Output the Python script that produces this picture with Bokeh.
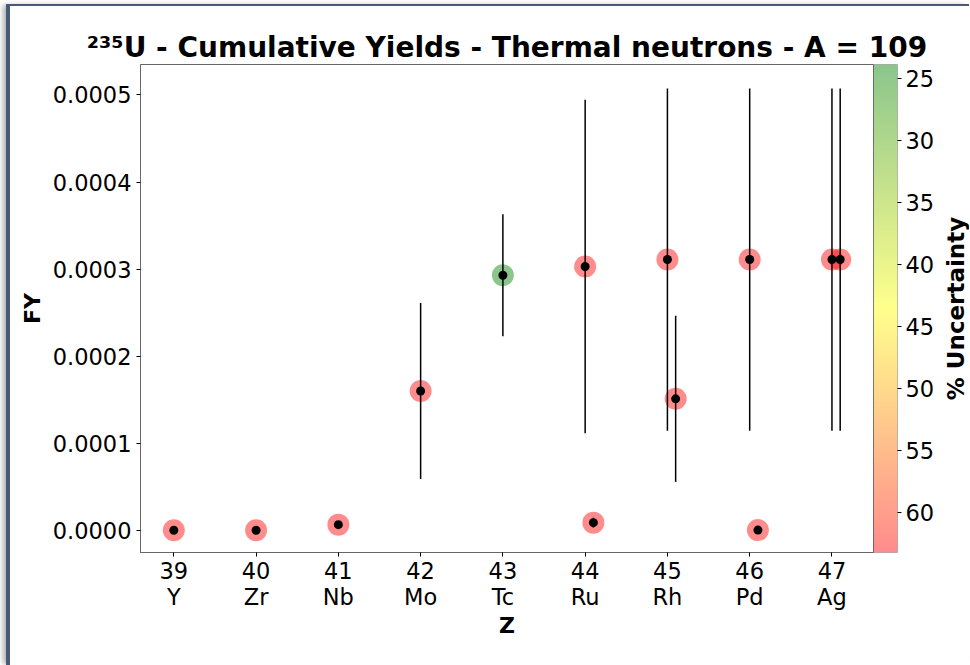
from bokeh.plotting import figure
from bokeh.layouts import row
from bokeh.models import (ColumnDataSource, Range1d, FixedTicker, ColorBar,
                          LinearColorMapper, PrintfTickFormatter)
from bokeh.transform import transform
from bokeh.embed import file_html
from bokeh.resources import INLINE

# ---------------- data ----------------
z_ticks = [39, 40, 41, 42, 43, 44, 45, 46, 47]
elements = ["Y", "Zr", "Nb", "Mo", "Tc", "Ru", "Rh", "Pd", "Ag"]

z_pos = [39, 40, 41, 42, 43, 44, 44.1, 45, 45.1, 46, 46.1, 47, 47.1]
fy = [1e-7, 1e-7, 6.5e-6, 1.60e-4, 2.93e-4, 3.03e-4, 8.8e-6,
      3.11e-4, 1.51e-4, 3.11e-4, 2e-7, 3.11e-4, 3.11e-4]
unc = [63.2, 63.2, 63.2, 63.2, 23.9, 63.2, 63.2,
       63.2, 63.2, 63.2, 63.2, 63.2, 63.2]

y_ticks = [0.0, 0.0001, 0.0002, 0.0003, 0.0004, 0.0005]
cbar_ticks = [25, 30, 35, 40, 45, 50, 55, 60]

FONT = "DejaVu Sans"

# error bar ends: FY +/- FY * uncertainty
lo = [f * (1 - u / 100.0) for f, u in zip(fy, unc)]
hi = [f * (1 + u / 100.0) for f, u in zip(fy, unc)]

src = ColumnDataSource(dict(z=z_pos, fy=fy, unc=unc, lo=lo, hi=hi))

# red -> yellow -> green palette (low index = high uncertainty)
def _mix(c1, c2, t):
    return tuple(int(round(a + (b - a) * t)) for a, b in zip(c1, c2))

anchors = [(255, 0, 0), (255, 255, 0), (0, 128, 0)]
palette = []
N = 256
for i in range(N):
    t = i / (N - 1) * 2
    k = min(int(t), 1)
    c = _mix(anchors[k], anchors[k + 1], t - k)
    palette.append("#%02x%02x%02x" % c)

u_min, u_max = min(unc), max(unc)
mapper = LinearColorMapper(palette=palette, low=u_max, high=u_min)

X_LO, X_HI = 38.595, 47.505
Y_LO, Y_HI = -0.0000255, 0.000535

p = figure(frame_width=733, frame_height=488,
           min_border_left=130, min_border_right=66,
           min_border_top=58, min_border_bottom=113,
           x_range=Range1d(X_LO, X_HI),
           y_range=Range1d(Y_LO, Y_HI),
           output_backend="svg", toolbar_location=None,
           background_fill_color="white", border_fill_color="white")

p.grid.visible = False
p.outline_line_color = "#666666"

p.title.text = "\u00b2\u00b3\u2075U - Cumulative Yields - Thermal neutrons - A = 109"
p.title.text_font = FONT
p.title.text_font_size = "28px"
p.title.text_font_style = "bold"
p.title.text_color = "black"
p.title.align = "center"
p.title.standoff = 2

# glyphs
p.scatter("z", "fy", source=src, size=22, line_color=None,
          fill_color=transform("unc", mapper), fill_alpha=0.45)
p.segment(x0="z", y0="lo", x1="z", y1="hi", source=src,
          line_color="black", line_width=1.5)
p.scatter("z", "fy", source=src, size=9, fill_color="black", line_color=None)

# axes
xa = p.xaxis[0]
xa.ticker = FixedTicker(ticks=z_ticks)
xa.major_label_overrides = {z: f"{z}\n{e}" for z, e in zip(z_ticks, elements)}
xa.axis_label = "Z"

ya = p.yaxis[0]
ya.ticker = FixedTicker(ticks=y_ticks)
ya.formatter = PrintfTickFormatter(format="%.4f")
ya.axis_label = "FY"

for ax in (xa, ya):
    ax.major_label_text_font = FONT
    ax.major_label_text_font_size = "22.5px"
    ax.major_label_text_color = "black"
    ax.axis_label_text_font = FONT
    ax.axis_label_text_font_size = "22px"
    ax.axis_label_text_font_style = "bold"
    ax.axis_label_text_color = "black"
    ax.axis_line_color = "#666666"
    ax.major_tick_line_color = "black"
    ax.major_tick_out = 4
    ax.major_tick_in = 0
    ax.minor_tick_line_color = None
    ax.major_label_standoff = 5
    ax.axis_label_standoff = 5

xa.major_label_text_line_height = 1.0
xa.major_label_standoff = 1
xa.axis_label_standoff = 0

cbar = ColorBar(color_mapper=mapper, ticker=FixedTicker(ticks=cbar_ticks),
                width=24, padding=0, margin=0, scale_alpha=0.45,
                major_tick_out=4, major_tick_in=0,
                major_tick_line_color="black", minor_tick_line_color=None,
                bar_line_color="#777777", border_line_color=None,
                background_fill_color=None,
                major_label_text_font=FONT, major_label_text_font_size="22.5px",
                major_label_text_color="black",
                label_standoff=4)
p.add_layout(cbar, "right")

# narrow companion figure: its left-axis label is the rotated colour-bar title
p2 = figure(frame_width=1, frame_height=488,
            min_border_left=0, min_border_right=0,
            min_border_top=58, min_border_bottom=113,
            x_range=Range1d(0, 1), y_range=p.y_range,
            x_axis_location=None,
            output_backend="svg", toolbar_location=None,
            background_fill_color="white", border_fill_color="white")
p2.grid.visible = False
p2.outline_line_color = None
a2 = p2.yaxis[0]
a2.ticker = FixedTicker(ticks=[])
a2.axis_line_color = None
a2.major_tick_line_color = None
a2.minor_tick_line_color = None
a2.major_tick_out = 0
a2.major_label_standoff = 0
a2.axis_label = "% Uncertainty"
a2.axis_label_text_font = FONT
a2.axis_label_text_font_size = "23px"
a2.axis_label_text_font_style = "bold"
a2.axis_label_text_color = "black"
a2.axis_label_standoff = 0

layout = row(p, p2, styles={"margin-left": "6px", "margin-top": "4px",
                            "border-left": "4px solid #485a78",
                            "border-top": "2px solid #485a78",
                            "box-shadow": "-4px 0px 5px -1px #b0b0b0",
                            "background-color": "white"})

open("out.html", "w").write(file_html(layout, INLINE))
